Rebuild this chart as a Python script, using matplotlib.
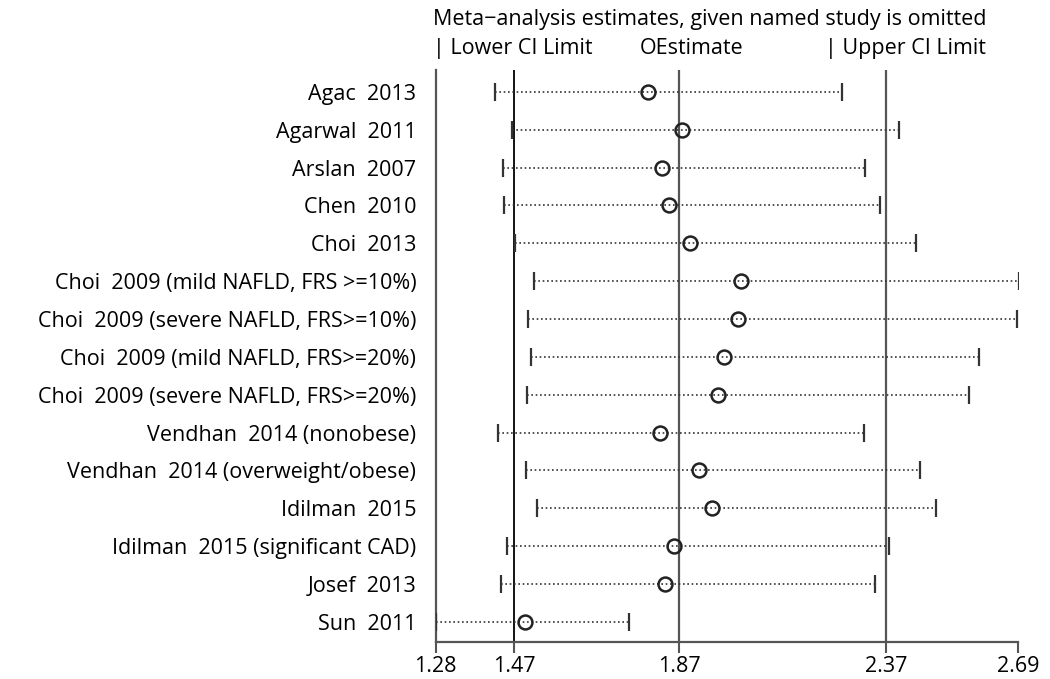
import numpy as np
import matplotlib
matplotlib.use('Agg')
import matplotlib.pyplot as plt

plt.rcParams['font.family'] = ['Open Sans', 'DejaVu Sans']

studies = ['Agac  2013', 'Agarwal  2011', 'Arslan  2007', 'Chen  2010', 'Choi  2013',
           'Choi  2009 (mild NAFLD, FRS >=10%)', 'Choi  2009 (severe NAFLD, FRS>=10%)',
           'Choi  2009 (mild NAFLD, FRS>=20%)', 'Choi  2009 (severe NAFLD, FRS>=20%)',
           'Vendhan  2014 (nonobese)', 'Vendhan  2014 (overweight/obese)', 'Idilman  2015',
           'Idilman  2015 (significant CAD)', 'Josef  2013', 'Sun  2011']
estimate = [1.795, 1.877, 1.829, 1.846, 1.896, 2.020, 2.011, 1.979, 1.964,
            1.823, 1.918, 1.950, 1.858, 1.836, 1.497]
lower = [1.423, 1.465, 1.443, 1.446, 1.472, 1.518, 1.504, 1.510, 1.502,
         1.431, 1.499, 1.526, 1.453, 1.438, 1.280]
upper = [2.263, 2.401, 2.319, 2.355, 2.442, 2.693, 2.688, 2.596, 2.571,
         2.318, 2.453, 2.491, 2.377, 2.343, 1.748]

ticks = [1.28, 1.47, 1.87, 2.37, 2.69]

fig = plt.figure(figsize=(10.5, 6.79), dpi=100)
ax = fig.add_axes([0.415, 0.0545, 0.5545, 0.8425])

y = np.arange(len(studies))

# reference lines
ax.axvline(1.47, color='black', lw=1.3, zorder=1)
ax.axvline(1.87, color='#555555', lw=1.6, zorder=1)
ax.axvline(2.37, color='#555555', lw=1.6, zorder=1)

# CI dotted lines with end ticks
ax.hlines(y, lower, upper, colors='#333333', linestyles=(0, (1, 1.6)), lw=1.2, zorder=2)
ax.plot(lower, y, linestyle='none', marker='|', markersize=13, mew=1.6, color='#333333', zorder=3)
ax.plot(upper, y, linestyle='none', marker='|', markersize=13, mew=1.6, color='#333333', zorder=3)
ax.plot(estimate, y, linestyle='none', marker='o', markersize=10, mfc='none',
        mec='#222222', mew=1.8, zorder=4)

ax.set_xlim(1.28, 2.69)
ax.set_ylim(14.53, -0.58)
ax.set_xticks(ticks)
ax.set_xticklabels(['%.2f' % t for t in ticks], fontsize=15.5)
ax.tick_params(axis='x', length=8, width=1.5, color='#555555', pad=2)

ax.set_yticks(y)
ax.set_yticklabels(studies, fontsize=15.5)
ax.tick_params(axis='y', length=0, pad=14)

for s in ['top', 'right']:
    ax.spines[s].set_visible(False)
ax.spines['left'].set_color('#555555')
ax.spines['left'].set_linewidth(1.6)
ax.spines['bottom'].set_color('#555555')
ax.spines['bottom'].set_linewidth(1.6)

fig.text(0.676, 0.972, 'Meta\u2212analysis estimates, given named study is omitted',
         ha='center', va='center', fontsize=15.5)
fig.text(0.412, 0.929, '| Lower CI Limit', ha='left', va='center', fontsize=15.5)
fig.text(0.609, 0.929, 'OEstimate', ha='left', va='center', fontsize=15.5)
fig.text(0.786, 0.929, '| Upper CI Limit', ha='left', va='center', fontsize=15.5)

fig.savefig('out.png', dpi=100)
